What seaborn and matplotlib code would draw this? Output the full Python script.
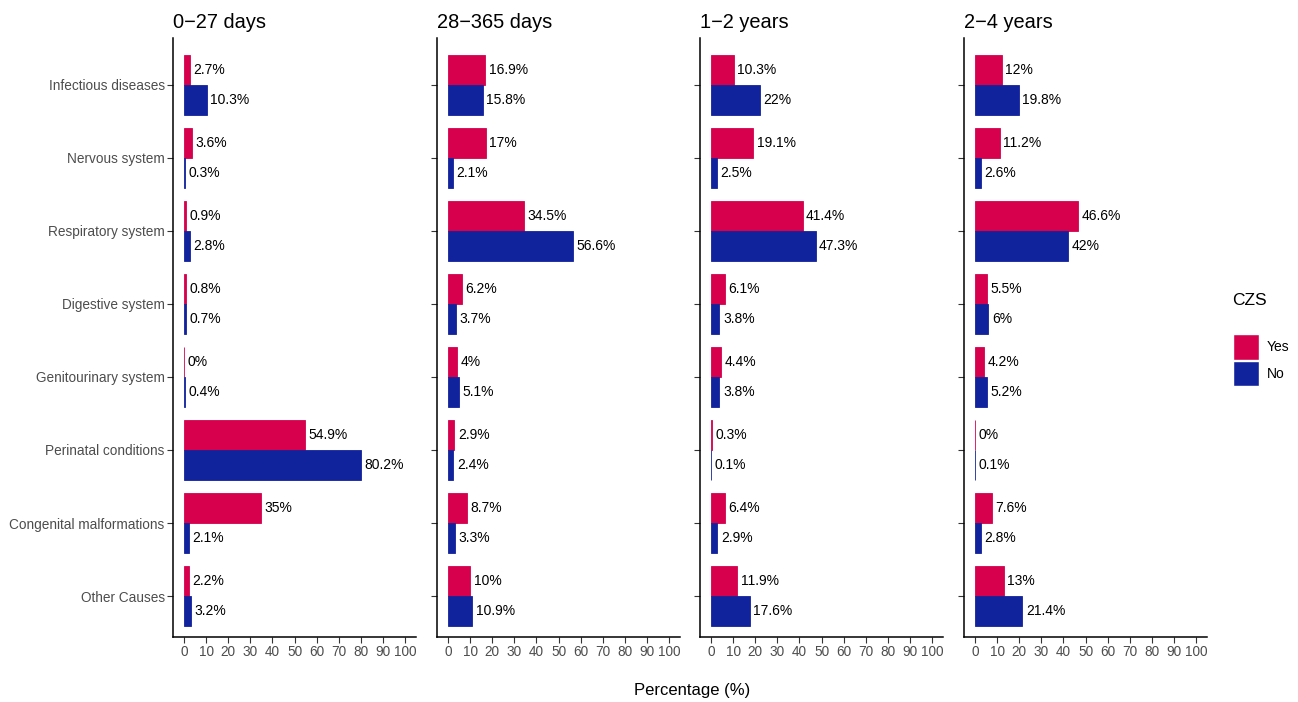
import numpy as np
import pandas as pd
import seaborn as sns
import matplotlib.pyplot as plt
from matplotlib.patches import Patch

# causes of death (y axis, top to bottom)
causes = ["Infectious diseases", "Nervous system", "Respiratory system",
          "Digestive system", "Genitourinary system", "Perinatal conditions",
          "Congenital malformations", "Other Causes"]

age_groups = ["0\u221227 days", "28\u2212365 days", "1\u22122 years", "2\u22124 years"]

# percentages per age group, CZS = Yes / No
yes_0_27 = [2.7, 3.6, 0.9, 0.8, 0, 54.9, 35, 2.2]
no_0_27 = [10.3, 0.3, 2.8, 0.7, 0.4, 80.2, 2.1, 3.2]
yes_28_365 = [16.9, 17, 34.5, 6.2, 4, 2.9, 8.7, 10]
no_28_365 = [15.8, 2.1, 56.6, 3.7, 5.1, 2.4, 3.3, 10.9]
yes_1_2 = [10.3, 19.1, 41.4, 6.1, 4.4, 0.3, 6.4, 11.9]
no_1_2 = [22, 2.5, 47.3, 3.8, 3.8, 0.1, 2.9, 17.6]
yes_2_4 = [12, 11.2, 46.6, 5.5, 4.2, 0, 7.6, 13]
no_2_4 = [19.8, 2.6, 42, 6, 5.2, 0.1, 2.8, 21.4]

series = [(yes_0_27, no_0_27), (yes_28_365, no_28_365),
          (yes_1_2, no_1_2), (yes_2_4, no_2_4)]

palette = {"Yes": "#D6004D", "No": "#11239C"}

sns.set_theme(style="white")
plt.rcParams['font.family'] = ['Liberation Sans', 'DejaVu Sans']
plt.rcParams['text.color'] = 'black'

W, H = 1298, 702
fig = plt.figure(figsize=(W / 100, H / 100), dpi=100)

lefts = [173, 437, 700, 964]
pw = 243
top, bottom = 38, 637

for i, (group, (yes, no)) in enumerate(zip(age_groups, series)):
    df = pd.DataFrame({
        "cause": causes * 2,
        "pct": yes + no,
        "CZS": ["Yes"] * len(causes) + ["No"] * len(causes),
    })
    ax = fig.add_axes([lefts[i] / W, 1 - bottom / H, pw / W, (bottom - top) / H])
    sns.barplot(data=df, x="pct", y="cause", hue="CZS", order=causes,
                hue_order=["Yes", "No"], palette=palette, orient="h",
                width=0.82, saturation=1, ax=ax, legend=False, errorbar=None)
    for c in ax.containers:
        for p in c.patches:
            p.set_edgecolor(p.get_facecolor())
            p.set_linewidth(0.6)
        ax.bar_label(c, fmt=lambda v: f"{v:g}%", padding=2.5, fontsize=10,
                     color="black")
    ax.set_xlim(-5, 105)
    ax.set_ylim(len(causes) - 1 + 0.56, -0.64)
    ax.set_xticks(np.arange(0, 101, 10))
    ax.set_xlabel("")
    ax.set_ylabel("")
    ax.tick_params(axis="both", which="both", length=4, width=0.8,
                   color="#333333", labelsize=9.8, labelcolor="#4D4D4D",
                   left=True, bottom=True, pad=2)
    if i > 0:
        ax.set_yticklabels([])
    for s in ["top", "right"]:
        ax.spines[s].set_visible(False)
    for s in ["left", "bottom"]:
        ax.spines[s].set_color("black")
        ax.spines[s].set_linewidth(1.1)
    ax.set_title(group, loc="left", fontsize=14.4, pad=7, color="black")

fig.text(692 / W, 1 - 691 / H, "Percentage (%)", ha="center", va="center",
         fontsize=12, color="black")

# legend: title drawn separately so the gap above the keys matches
fig.text(1232 / W, 1 - 301 / H, "CZS", ha="left", va="center", fontsize=12.5,
         color="black")
handles = [Patch(facecolor=palette[k], label=k) for k in ["Yes", "No"]]
fig.legend(handles=handles, loc="upper left",
           bbox_to_anchor=(1233 / W, 1 - 334 / H), frameon=False,
           borderpad=0, borderaxespad=0, labelcolor="black",
           fontsize=10, handlelength=1.85, handleheight=2.45,
           labelspacing=0.1, handletextpad=0.6)

fig.savefig("out.png", dpi=100)
